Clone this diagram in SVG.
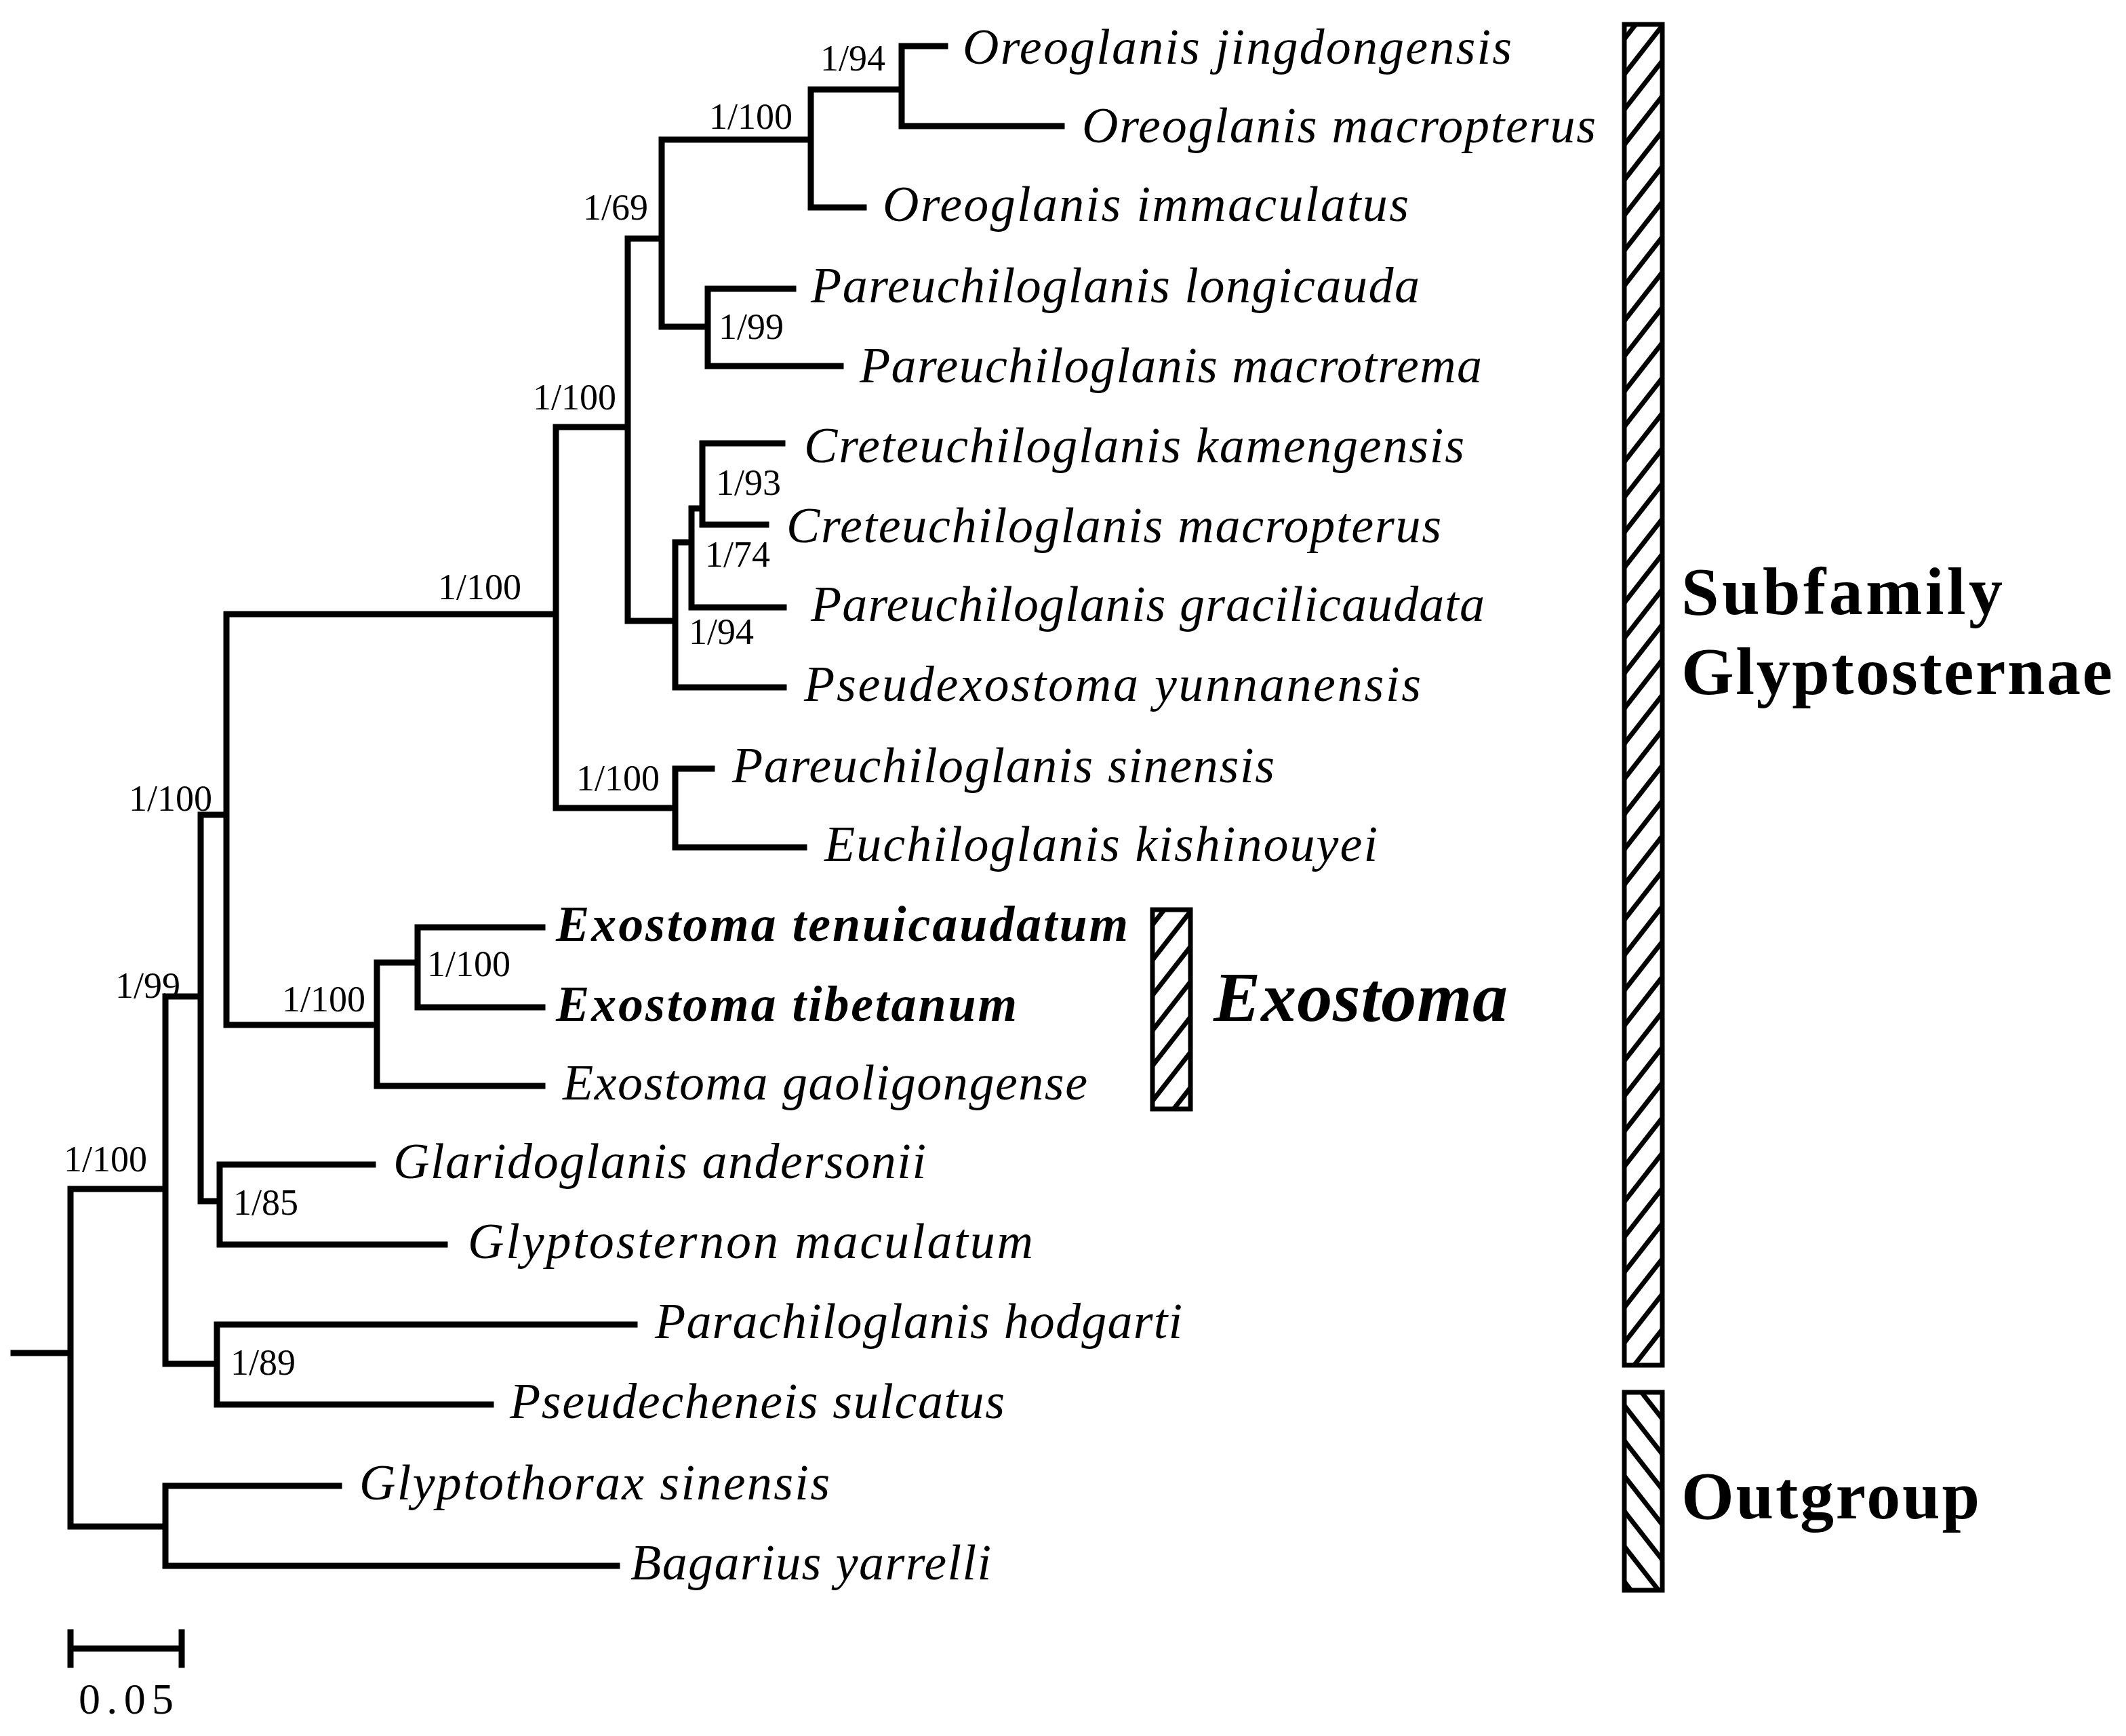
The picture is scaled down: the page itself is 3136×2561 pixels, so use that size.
<svg xmlns="http://www.w3.org/2000/svg" width="3136" height="2561" viewBox="0 0 3136 2561">
<style>
.br{fill:none;stroke:#000;stroke-width:4.5;stroke-linecap:square}
.tip{font-family:"Liberation Serif",serif;font-style:italic;font-size:37px}
.tb{font-weight:bold}
.sup{font-family:"Liberation Serif",serif;font-size:27px}
.grp{font-family:"Liberation Serif",serif;font-weight:bold;font-size:50px}
.bar{stroke:#000;stroke-width:3.5}
</style>
<defs>
<pattern id="h1" patternUnits="userSpaceOnUse" width="16" height="16" patternTransform="rotate(38)"><rect width="16" height="16" fill="#fff"/><line x1="0" y1="0" x2="0" y2="16" stroke="#000" stroke-width="7"/></pattern>
<pattern id="h2" patternUnits="userSpaceOnUse" width="16" height="16" patternTransform="rotate(-38)"><rect width="16" height="16" fill="#fff"/><line x1="0" y1="0" x2="0" y2="16" stroke="#000" stroke-width="7"/></pattern>
</defs>
<rect width="3136" height="2561" fill="#fff"/>
<g transform="scale(2)">
<g id="connectors">
<path class="br" d="M10 998H52M52 877V1126M52 1126H122M122 1096V1155M122 1096H250M122 1155H455
M52 877H122M122 735V1006M122 1006H160M160 977V1036M160 977H468M160 1036H362
M122 735H148M148 601V886M148 886H162M162 859V918M162 859H275M162 918H328
M148 601H167M167 453V756M167 756H278M278 710V801M278 801H400M278 710H308M308 684V743M308 684H400M308 743H400
M167 453H410M410 315V596M410 596H498M498 567V625M498 567H525M498 625H593
M410 315H463M463 176V458M463 458H498M498 400V507M498 507H578M498 400H510M510 375V448M510 448H578M510 375H518M518 327V387M518 327H577M518 387H565
M463 176H488M488 103V241M488 241H522M522 213V270M522 213H585M522 270H620
M488 103H598M598 66V153M598 153H637M598 66H665M665 34V93M665 34H697M665 93H783"/>
<path class="br" d="M52 1216H134M52 1204V1228M134 1204V1228"/>
</g>
<g id="supports" class="sup">
<text x="605" y="52">1/94</text>
<text x="523" y="95">1/100</text>
<text x="430" y="162">1/69</text>
<text x="530" y="250">1/99</text>
<text x="393" y="302">1/100</text>
<text x="528" y="365">1/93</text>
<text x="520" y="418">1/74</text>
<text x="508" y="475">1/94</text>
<text x="323" y="442">1/100</text>
<text x="425" y="583">1/100</text>
<text x="95" y="598">1/100</text>
<text x="315" y="720">1/100</text>
<text x="208" y="746">1/100</text>
<text x="85" y="736">1/99</text>
<text x="172" y="896">1/85</text>
<text x="47" y="864">1/100</text>
<text x="170" y="1014">1/89</text>
</g>
<g id="tips" class="tip">
<text x="710" y="47" textLength="405">Oreoglanis jingdongensis</text>
<text x="798" y="105" textLength="379">Oreoglanis macropterus</text>
<text x="651" y="163" textLength="388">Oreoglanis immaculatus</text>
<text x="598" y="223" textLength="449">Pareuchiloglanis longicauda</text>
<text x="634" y="282" textLength="459">Pareuchiloglanis macrotrema</text>
<text x="593" y="341" textLength="487">Creteuchiloglanis kamengensis</text>
<text x="580" y="400" textLength="483">Creteuchiloglanis macropterus</text>
<text x="598" y="458" textLength="497">Pareuchiloglanis gracilicaudata</text>
<text x="593" y="517" textLength="455">Pseudexostoma yunnanensis</text>
<text x="540" y="577" textLength="400">Pareuchiloglanis sinensis</text>
<text x="608" y="635" textLength="408">Euchiloglanis kishinouyei</text>
<text x="410" y="694" textLength="422" class="tb">Exostoma tenuicaudatum</text>
<text x="410" y="753" textLength="340" class="tb">Exostoma tibetanum</text>
<text x="415" y="811" textLength="387">Exostoma gaoligongense</text>
<text x="290" y="869" textLength="393">Glaridoglanis andersonii</text>
<text x="345" y="928" textLength="417">Glyptosternon maculatum</text>
<text x="483" y="987" textLength="389">Parachiloglanis hodgarti</text>
<text x="376" y="1046" textLength="365">Pseudecheneis sulcatus</text>
<text x="265" y="1106" textLength="347">Glyptothorax sinensis</text>
<text x="465" y="1165" textLength="266">Bagarius yarrelli</text>
</g>
<g id="group-subfamily">
<rect class="bar" x="1198" y="18" width="28" height="989" fill="url(#h1)"/>
<text class="grp" x="1240" y="453" textLength="237">Subfamily</text>
<text class="grp" x="1240" y="512" textLength="318">Glyptosternae</text>
</g>
<g id="group-outgroup">
<rect class="bar" x="1198" y="1027" width="28" height="146" fill="url(#h2)"/>
<text class="grp" x="1240" y="1120" textLength="220">Outgroup</text>
</g>
<g id="group-exostoma">
<rect class="bar" x="850" y="671" width="28" height="147" fill="url(#h1)"/>
<text x="895" y="753" font-family="Liberation Serif,serif" font-style="italic" font-weight="bold" font-size="52" textLength="217">Exostoma</text>
</g>
<text x="58" y="1264" font-family="Liberation Serif,serif" font-size="32" textLength="70">0.05</text>
</g>
</svg>
